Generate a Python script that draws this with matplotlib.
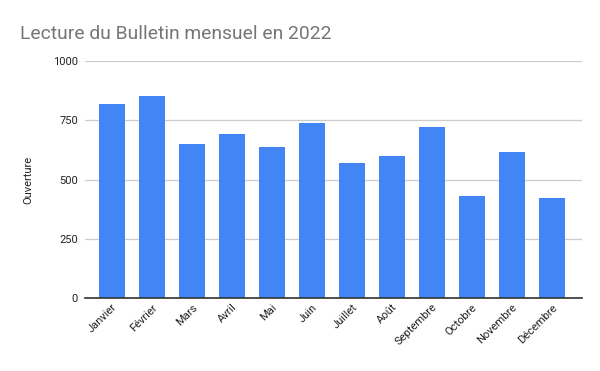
import matplotlib
matplotlib.use("Agg")
import matplotlib.pyplot as plt

months = ["Janvier", "Février", "Mars", "Avril", "Mai", "Juin", "Juillet",
          "Août", "Septembre", "Octobre", "Novembre", "Décembre"]
ouverture = [819, 852, 650, 692, 637, 738, 570, 599, 721, 430, 616, 422]
yticks = [0, 250, 500, 750, 1000]

plt.rcParams['font.family'] = ['Roboto', 'DejaVu Sans']

fig = plt.figure(figsize=(6, 3.71), dpi=100)
ax = fig.add_axes([85/600, 1-298/371, (582-85)/600, (298-61)/371])

x = list(range(len(months)))
ax.bar(x, ouverture, width=0.65, color="#4285F4", zorder=3)

ax.set_xlim(-0.675, 11.75)
ax.set_ylim(0, 1000)
ax.set_yticks(yticks)
ax.set_yticklabels([str(v) for v in yticks], fontsize=8, color="#222222")
ax.yaxis.grid(True, color="#cccccc", linewidth=0.9, zorder=0)
ax.tick_params(axis='y', length=0, pad=5)
ax.tick_params(axis='x', length=0, pad=3)
ax.set_xticks(x)
ax.set_xticklabels(months, rotation=45, ha='right', rotation_mode='anchor',
                   fontsize=8, color="#222222")
for s in ['top', 'right', 'left']:
    ax.spines[s].set_visible(False)
ax.spines['bottom'].set_color('#333333')
ax.spines['bottom'].set_linewidth(1.2)
ax.spines['bottom'].set_zorder(4)

ax.set_ylabel("Ouverture", fontsize=8, color="#222222", labelpad=14)
fig.text(20/600, 1-39/371, "Lecture du Bulletin mensuel en 2022",
         fontsize=13.9, color="#757575", ha='left', va='baseline')

fig.savefig("out.png", dpi=100)
